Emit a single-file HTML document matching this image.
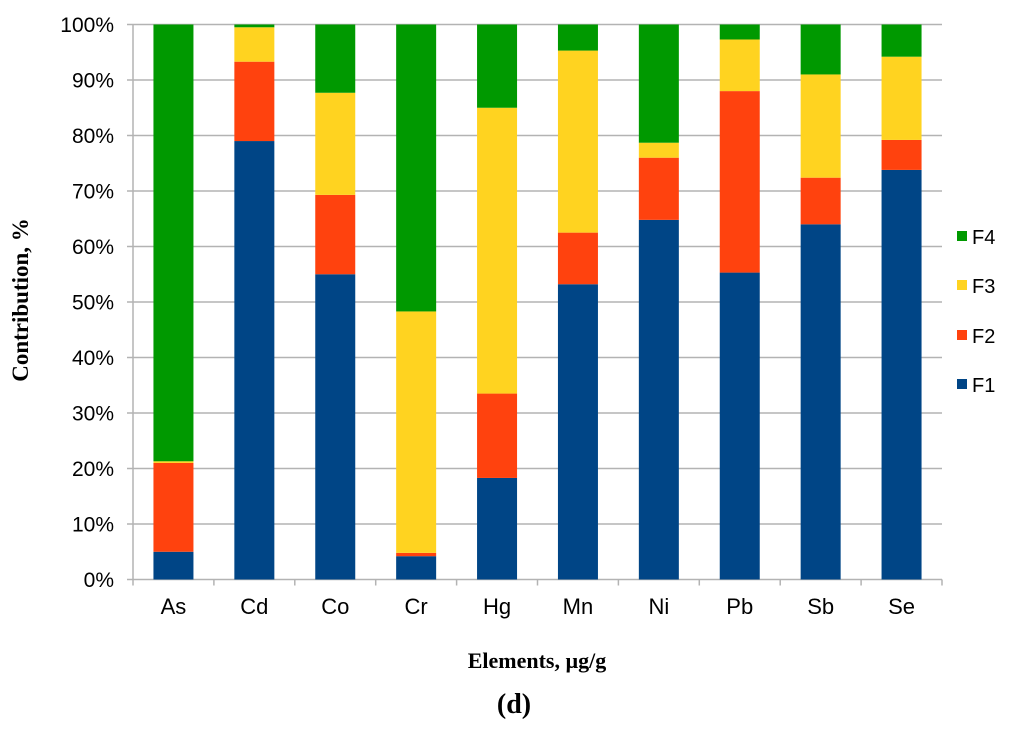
<!DOCTYPE html>
<html><head><meta charset="utf-8"><style>
body{margin:0;background:#fff;width:1024px;height:731px;overflow:hidden}
svg text{font-family:"Liberation Sans",sans-serif}
</style></head><body>
<svg id="c" width="1024" height="731"></svg>
<script>
const categories=["As","Cd","Co","Cr","Hg","Mn","Ni","Pb","Sb","Se"];
const f1=[5,79,55,4.2,18.3,53.2,64.8,55.3,64,73.8];
const f2=[16,14.3,14.3,0.6,15.2,9.3,11.2,32.7,8.4,5.4];
const f3=[0.3,6.2,18.4,43.5,51.5,32.8,2.7,9.3,18.6,15];
const f4=[78.7,0.5,12.3,51.7,15,4.7,21.3,2.7,9,5.8];
const yTicks=[0,10,20,30,40,50,60,70,80,90,100];
const seriesNames=["F1","F2","F3","F4"];
const colors=["#004586","#ff420e","#ffd320","#009900"];
const svg=document.getElementById('c');const NS="http://www.w3.org/2000/svg";
function mk(t,a,p){const e=document.createElementNS(NS,t);for(const k in a)e.setAttribute(k,a[k]);(p||svg).appendChild(e);return e;}
const L=133,R=942,T=24.5,B=579.5;
const y=v=>B-(B-T)*v/100;
const step=(R-L)/categories.length;
const xc=i=>L+step*(i+0.5);
yTicks.forEach(t=>{
 const g=mk('line',{x1:L-6,x2:R,y1:y(t),y2:y(t),stroke:'#b3b3b3','stroke-width':1.5});
 
 const tx=mk('text',{x:114,y:y(t)+7.5,'text-anchor':'end','font-size':21,fill:'#000'});tx.textContent=t+'%';
 
});
for(let i=0;i<=categories.length;i++){const l=mk('line',{x1:L+step*i,x2:L+step*i,y1:B,y2:B+6,stroke:'#b3b3b3','stroke-width':1.5});
 }
mk('line',{x1:L,x2:L,y1:T,y2:B,stroke:'#b3b3b3','stroke-width':1.5});
const series=[f1,f2,f3,f4];
categories.forEach((c,i)=>{
 let acc=0;
 series.forEach((s,k)=>{
  const r=mk('rect',{x:xc(i)-20,width:40,y:y(acc+s[i]),height:y(acc)-y(acc+s[i]),fill:colors[k]});
  
  acc+=s[i];
 });
 const t=mk('text',{x:xc(i),y:614,'text-anchor':'middle','font-size':22});t.textContent=c;
 
});
seriesNames.forEach((n,k)=>{
 const yy=[386,337,287,238][k];
 const r=mk('rect',{x:957,y:yy-7,width:10,height:10,fill:colors[k]});
 
 const t=mk('text',{x:972,y:yy+6,'font-size':20});t.textContent=n;
 
});
let t=mk('text',{x:537,y:668,'text-anchor':'middle','font-size':22,'font-weight':'bold'});t.textContent='Elements, µg/g';t.style.fontFamily='"Liberation Serif",serif';

t=mk('text',{x:0,y:0,'text-anchor':'middle','font-size':23,'font-weight':'bold',transform:'translate(28,300) rotate(-90)'});t.textContent='Contribution, %';t.style.fontFamily='"Liberation Serif",serif';

t=mk('text',{x:514,y:713,'text-anchor':'middle','font-size':28,'font-weight':'bold'});t.textContent='(d)';t.style.fontFamily='"Liberation Serif",serif';

</script>
</body></html>
